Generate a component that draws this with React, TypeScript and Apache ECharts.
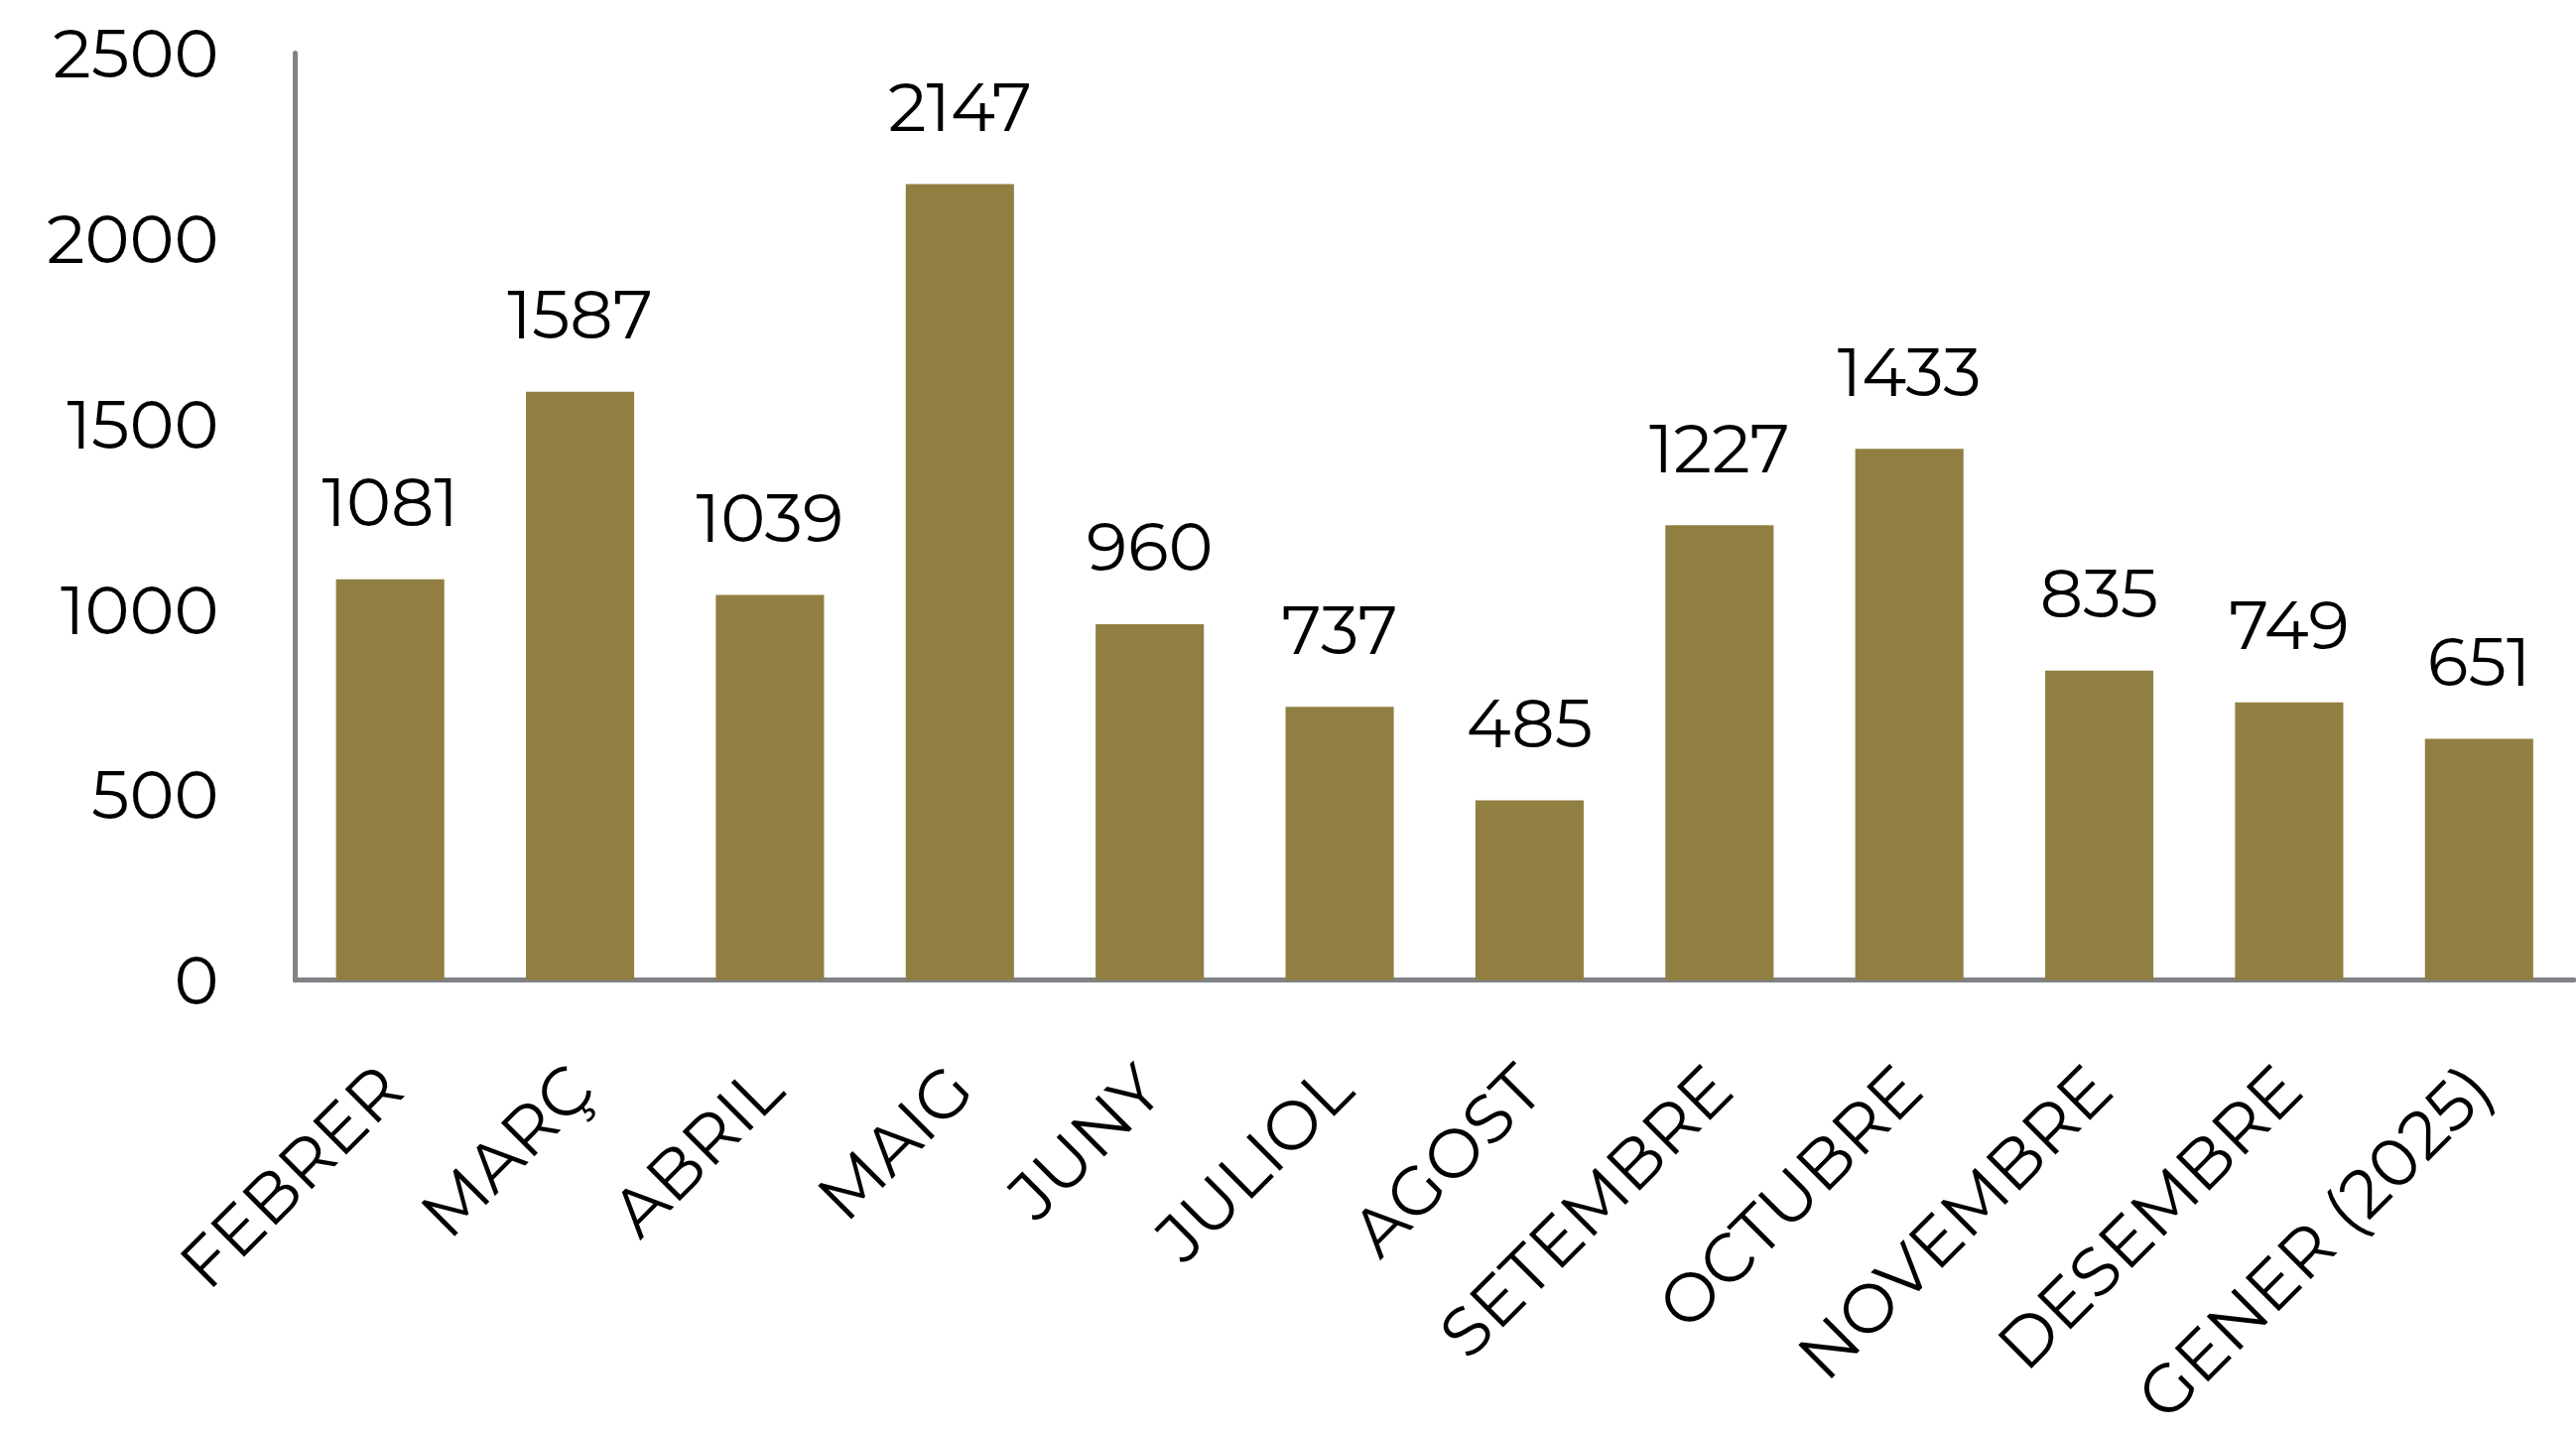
import React, { useEffect, useRef } from "react";
import * as echarts from "echarts";

const categories = [
  "FEBRER",
  "MARÇ",
  "ABRIL",
  "MAIG",
  "JUNY",
  "JULIOL",
  "AGOST",
  "SETEMBRE",
  "OCTUBRE",
  "NOVEMBRE",
  "DESEMBRE",
  "GENER (2025)",
];
const values = [1081, 1587, 1039, 2147, 960, 737, 485, 1227, 1433, 835, 749, 651];
const yMin = 0;
const yMax = 2500;
const yInterval = 500;

const FONT = "Montserrat, 'DejaVu Sans', sans-serif";

export default function App() {
  const ref = useRef<HTMLDivElement>(null);
  useEffect(() => {
    document.body.style.margin = "0";
    const chart = echarts.init(ref.current!, undefined, { renderer: "svg" });
    chart.setOption({
      animation: false,
      backgroundColor: "#ffffff",
      grid: { left: 297.5, right: 2, top: 53.5, bottom: 442, containLabel: false },
      xAxis: {
        type: "category",
        data: categories,
        axisLine: { show: true, lineStyle: { color: "#808285", width: 5 } },
        axisTick: { show: false },
        axisLabel: {
          rotate: 45,
          interval: 0,
          margin: 97,
          color: "#000000",
          fontFamily: FONT,
          fontSize: 68,
        },
      },
      yAxis: {
        type: "value",
        min: yMin,
        max: yMax,
        interval: yInterval,
        axisLine: { show: true, lineStyle: { color: "#808285", width: 5 } },
        axisTick: { show: false },
        splitLine: { show: false },
        axisLabel: {
          margin: 77,
          color: "#000000",
          fontFamily: FONT,
          fontSize: 68,
          formatter: (v: number) => String(v),
        },
      },
      series: [
        {
          type: "bar",
          data: values,
          barWidth: "57%",
          itemStyle: { color: "#917F42" },
          label: {
            show: true,
            position: "top",
            distance: 43,
            color: "#000000",
            fontFamily: FONT,
            fontSize: 68,
            lineHeight: 70,
          },
        },
      ],
    });
    return () => chart.dispose();
  }, []);
  return (
    <div
      ref={ref}
      style={{ position: "fixed", left: 0, top: 0, width: 2596, height: 1444 }}
    />
  );
}
